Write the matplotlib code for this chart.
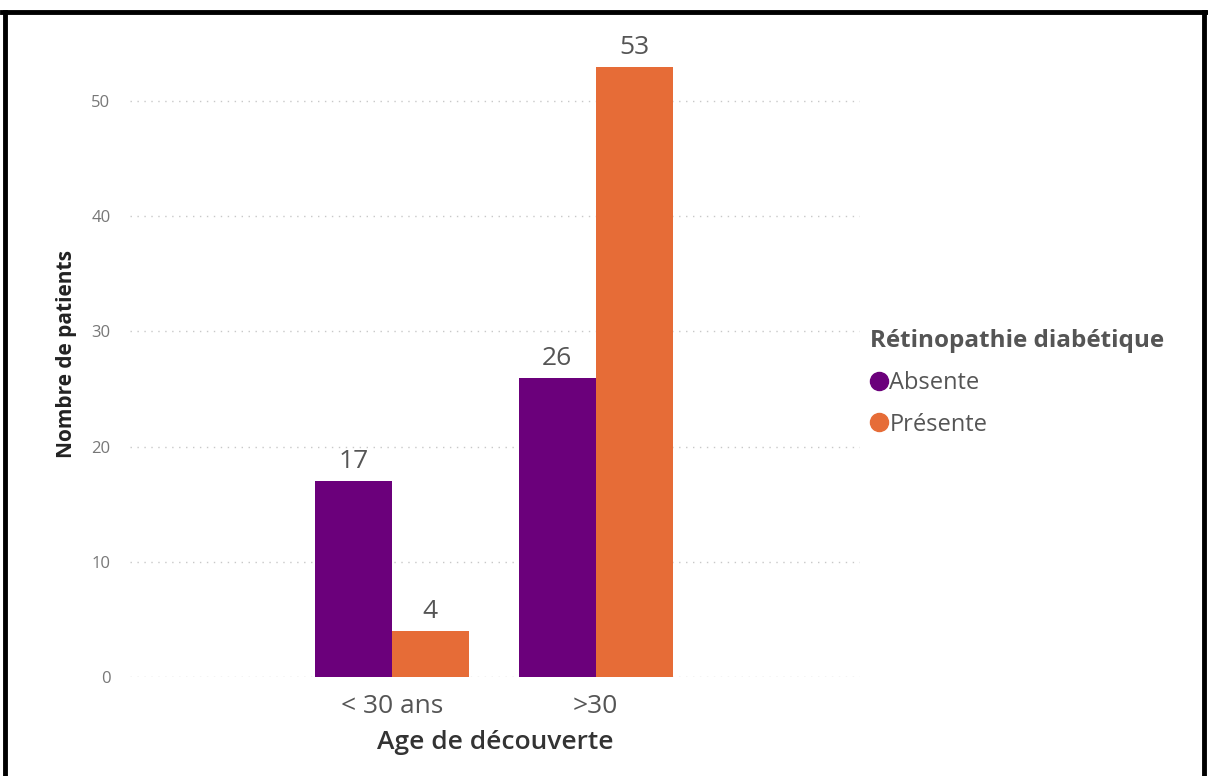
import matplotlib.pyplot as plt
from matplotlib.lines import Line2D
import numpy as np

ages = ['< 30 ans', '>30']
absente = [17, 26]
presente = [4, 53]
series = ['Absente', 'Présente']
colors = ['#6B007B', '#E66C37']

plt.rcParams['font.family'] = ['Open Sans', 'DejaVu Sans']

fig = plt.figure(figsize=(12.08, 7.76), dpi=100)
ax = fig.add_axes([0.1076, 0.1276, 0.604, 0.8312])

x = np.arange(len(ages))
w = 0.378
b1 = ax.bar(x - w/2, absente, w, color=colors[0])
b2 = ax.bar(x + w/2, presente, w, color=colors[1])
for bars in (b1, b2):
    ax.bar_label(bars, padding=5, fontsize=19, color='#555555')

ax.set_xlim(-1.284, 2.294)
ax.set_ylim(0, 56)
ax.set_yticks([0, 10, 20, 30, 40, 50])
ax.set_xticks(x)
ax.set_xticklabels(ages, fontsize=19, color='#555555')
ax.tick_params(axis='y', labelsize=12, labelcolor='#777777', length=0, pad=14)
ax.tick_params(axis='x', length=0, pad=12)
ax.yaxis.grid(True, linestyle=(0, (1, 4)), color='#c8c8c8', linewidth=1)
ax.set_axisbelow(True)
for s in ax.spines.values():
    s.set_visible(False)

ax.set_xlabel('Age de découverte', fontsize=19, fontweight='semibold', color='#333333', labelpad=8)
ax.set_ylabel('Nombre de patients', fontsize=15, fontweight='bold', color='#222222', labelpad=10)

handles = [Line2D([], [], marker='o', linestyle='', markersize=13, color=c) for c in colors]
leg = fig.legend(handles, series, loc='upper left', bbox_to_anchor=(0.703, 0.603),
                 frameon=False, title='Rétinopathie diabétique', alignment='left',
                 handlelength=0.7, handletextpad=0.1, labelspacing=0.75,
                 prop={'size': 17}, title_fontproperties={'size': 17.5, 'weight': 'bold'})
leg.get_title().set_color('#555555')
for t in leg.get_texts():
    t.set_color('#555555')

# black frame around the figure
fig.add_artist(Line2D([0.002, 0.998], [0.984, 0.984], color='black', linewidth=3.5, transform=fig.transFigure))
fig.add_artist(Line2D([0.004, 0.004], [0.0, 0.985], color='black', linewidth=3.5, transform=fig.transFigure))
fig.add_artist(Line2D([0.997, 0.997], [0.0, 0.985], color='black', linewidth=3.5, transform=fig.transFigure))

fig.savefig('out.png', dpi=100)
